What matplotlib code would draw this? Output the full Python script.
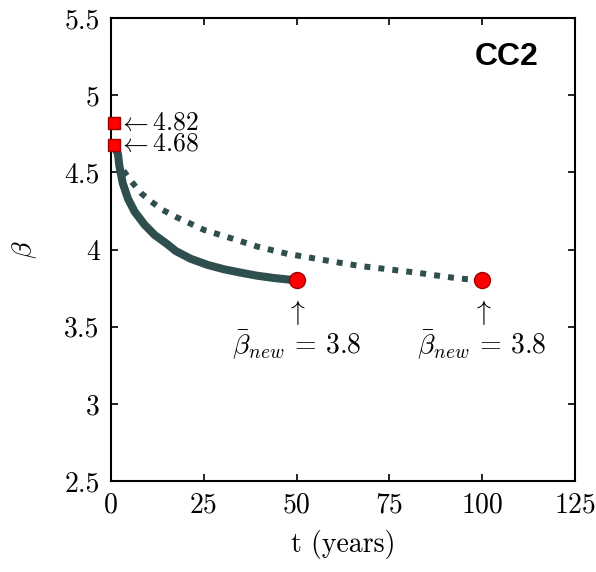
import numpy as np
import matplotlib
matplotlib.use("Agg")
import matplotlib.pyplot as plt

plt.rcParams['font.family'] = 'serif'
plt.rcParams['font.serif'] = ['cmr10', 'DejaVu Serif']
plt.rcParams['mathtext.fontset'] = 'cm'
plt.rcParams['axes.formatter.use_mathtext'] = True

# curve: 50-year transition (solid)
t_50 = [0.8, 1.9, 2.3, 3.2, 4.6, 6.4, 9.1, 11.8, 14.9, 17.5, 21.5, 26.1,
        30.5, 35.0, 39.5, 44.1, 50.0]
beta_50 = [4.68, 4.62, 4.54, 4.43, 4.33, 4.245, 4.16, 4.094, 4.04, 3.99,
           3.94, 3.90, 3.872, 3.85, 3.83, 3.815, 3.80]

# 100-year transition (dotted)
t_100 = [0.8, 2.8, 5.6, 8.2, 10.9, 14.0, 17.8, 25.2, 32.4, 39.6, 47.7,
         51.8, 59.0, 67.1, 74.7, 82.4, 90.0, 94.0, 100.0]
beta_100 = [4.68, 4.53, 4.439, 4.364, 4.31, 4.256, 4.208, 4.126, 4.073,
            4.018, 3.971, 3.955, 3.925, 3.893, 3.872, 3.85, 3.824, 3.812,
            3.80]

# start values (squares) and end values (circles)
t_start = [0.8, 0.8]
beta_start = [4.82, 4.68]
t_end = [50, 100]
beta_end = [3.8, 3.8]

xticks = [0, 25, 50, 75, 100, 125]
xtick_labels = ['0', '25', '50', '75', '100', '125']
yticks = [2.5, 3, 3.5, 4, 4.5, 5, 5.5]
ytick_labels = ['2.5', '3', '3.5', '4', '4.5', '5', '5.5']

line_color = '#2f4f4f'
fs = 20

fig = plt.figure(figsize=(5.96, 5.72), dpi=100)
ax = fig.add_axes([0.186, 0.159, 0.779, 0.8095])

ax.plot(t_50, beta_50, color=line_color, lw=5.8, solid_capstyle='butt',
        solid_joinstyle='round')
ax.plot(t_100, beta_100, color=line_color, lw=4.3, linestyle=(0, (1, 1.35)))

ax.plot(t_end, beta_end, 'o', color='red', markeredgecolor='#a00000',
        markersize=11.5, markeredgewidth=1.0, zorder=5)
ax.plot(t_start, beta_start, 's', color='red', markeredgecolor='#a00000',
        markersize=8.5, markeredgewidth=1.0, zorder=5, clip_on=False)

for b in beta_start:
    ax.text(2.0, b, r'$\leftarrow$' + f'{b:.2f}', fontsize=18.5,
            va='center', ha='left')

for t, b in zip(t_end, beta_end):
    ax.text(t, b - 0.21, r'$\uparrow$', fontsize=fs, ha='center', va='center')
    ax.text(t, b - 0.42, r'$\bar{\beta}_{new}$' + ' = ' + f'{b}', fontsize=fs,
            ha='center', va='center')

ax.text(0.852, 0.915, 'CC2', transform=ax.transAxes, fontsize=23,
        fontweight='bold', family='Liberation Sans', ha='center', va='center')

ax.set_xlim(0, 125)
ax.set_ylim(2.5, 5.5)
ax.set_xticks(xticks)
ax.set_xticklabels(xtick_labels)
ax.set_yticks(yticks)
ax.set_yticklabels(ytick_labels)
ax.tick_params(direction='in', top=True, right=True, labelsize=fs,
               length=5, width=1.2, pad=8)
for s in ax.spines.values():
    s.set_linewidth(1.5)

ax.set_xlabel('t (years)', fontsize=fs, labelpad=8)
ax.set_ylabel(r'$\beta$', fontsize=fs, labelpad=18)

fig.savefig('out.png', dpi=100)
